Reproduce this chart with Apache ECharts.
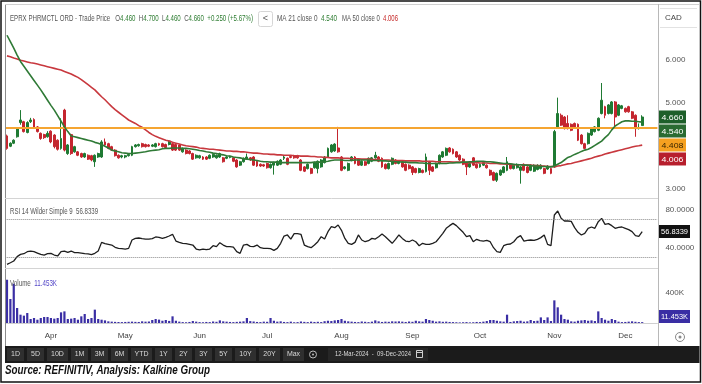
<!DOCTYPE html>
<html><head><meta charset="utf-8">
<script src="https://cdn.jsdelivr.net/npm/echarts@6/dist/echarts.min.js"></script>
<style>html,body{margin:0;padding:0;background:#fff}#c{width:702px;height:384px}</style>
</head><body><div id="c"></div>
<script>
// ---------- DATA ----------
const holidays = ['2024-03-29','2024-05-20','2024-07-01','2024-08-05','2024-09-02','2024-10-14'];
const firstDay = '2024-03-12', lastDay = '2024-12-09';
const padSlots = ['+1','+2','+3','+4'];
const monthNames = ['Jan','Feb','Mar','Apr','May','Jun','Jul','Aug','Sep','Oct','Nov','Dec'];

const openPrices = [
4.22,3.98,4.05,4.20,4.53,4.55,4.30,4.55,4.60,4.43,
4.28,4.25,4.20,4.33,4.24,4.12,3.93,4.82,3.81,4.25,
3.85,3.85,3.81,3.73,3.77,3.76,3.62,3.73,3.73,4.08,
4.04,3.97,3.89,3.77,3.73,3.73,3.76,3.77,3.97,3.99,
4.04,4.02,4.01,3.98,3.97,4.04,4.04,4.02,4.02,4.04,
4.02,4.01,3.85,3.89,3.87,3.81,3.71,3.71,3.73,3.73,
3.70,3.73,3.71,3.73,3.71,3.70,3.72,3.71,3.66,3.54,
3.62,3.68,3.71,3.73,3.63,3.56,3.55,3.58,3.48,3.54,
3.54,3.56,3.70,3.70,3.74,3.76,3.76,3.66,3.50,3.46,
3.46,3.48,3.46,3.50,3.60,3.73,3.85,3.87,3.94,3.73,
3.46,3.42,3.65,3.73,3.68,3.54,3.62,3.58,3.63,3.71,
3.73,3.70,3.56,3.46,3.56,3.66,3.58,3.62,3.56,3.54,
3.50,3.46,3.37,3.42,3.39,3.62,3.50,3.48,3.58,3.73,
3.77,3.94,3.91,3.85,3.77,3.68,3.60,3.50,3.71,3.56,
3.50,3.54,3.54,3.42,3.37,3.19,3.31,3.37,3.42,3.56,
3.46,3.48,3.42,3.56,3.50,3.42,3.40,3.44,3.46,3.46,
3.45,3.46,3.50,4.43,4.70,4.66,4.51,4.49,4.51,4.49,
4.24,4.04,4.04,4.24,4.32,4.35,4.74,4.90,4.74,4.74,
5.01,4.70,4.86,4.86,4.90,4.78,4.70,4.39,4.46];
const closePrices = [
3.93,4.05,4.12,4.39,4.59,4.32,4.53,4.59,4.41,4.32,
4.16,4.18,4.28,4.08,3.97,3.91,4.16,3.89,4.01,3.81,
3.97,3.77,3.73,3.81,3.68,3.66,3.77,3.81,4.08,4.01,
3.93,3.89,3.76,3.71,3.76,3.76,3.79,3.97,4.01,4.02,
3.97,3.97,3.98,4.01,4.04,4.01,3.97,3.95,4.10,3.89,
3.89,3.89,3.93,3.81,3.81,3.68,3.77,3.76,3.68,3.68,
3.77,3.79,3.77,3.81,3.62,3.73,3.74,3.63,3.50,3.62,
3.70,3.73,3.66,3.54,3.52,3.52,3.52,3.48,3.56,3.60,
3.63,3.66,3.73,3.56,3.72,3.71,3.71,3.42,3.40,3.56,
3.35,3.60,3.63,3.66,3.73,3.93,4.01,4.03,3.85,3.42,
3.50,3.58,3.73,3.58,3.54,3.63,3.54,3.70,3.71,3.77,
3.63,3.50,3.46,3.58,3.70,3.58,3.63,3.50,3.42,3.46,
3.37,3.37,3.46,3.37,3.73,3.42,3.40,3.58,3.77,3.85,
3.93,3.85,3.81,3.73,3.66,3.56,3.50,3.58,3.54,3.48,
3.56,3.60,3.48,3.31,3.19,3.35,3.42,3.50,3.62,3.46,
3.54,3.56,3.50,3.42,3.37,3.54,3.54,3.54,3.54,3.35,
3.52,3.35,4.32,4.74,4.47,4.39,4.39,4.35,4.43,4.12,
4.04,3.93,4.28,4.39,4.43,4.63,5.05,4.70,4.94,5.01,
4.66,4.94,4.92,4.78,4.78,4.63,4.39,4.41,4.66];
const highPrices = [
4.25,4.07,4.14,4.42,4.82,4.57,4.56,4.64,4.63,4.45,
4.30,4.27,4.33,4.35,4.26,4.14,4.63,4.85,4.03,4.27,
3.99,3.87,3.83,3.83,3.79,3.78,3.79,3.83,4.12,4.16,
4.06,3.99,3.91,3.79,3.78,3.78,3.81,3.99,4.03,4.04,
4.06,4.04,4.03,4.03,4.06,4.06,4.06,4.04,4.12,4.06,
4.04,4.03,3.95,3.91,3.89,3.83,3.79,3.78,3.75,3.75,
3.79,3.81,3.79,3.83,3.73,3.75,3.76,3.73,3.68,3.64,
3.72,3.81,3.73,3.75,3.65,3.58,3.57,3.60,3.58,3.62,
3.65,3.68,3.77,3.72,3.76,3.78,3.78,3.68,3.52,3.58,
3.48,3.62,3.65,3.68,3.75,3.95,4.03,4.05,4.43,3.75,
3.52,3.60,3.75,3.75,3.70,3.65,3.64,3.72,3.73,3.85,
3.75,3.72,3.58,3.60,3.72,3.68,3.65,3.64,3.58,3.56,
3.52,3.48,3.48,3.44,3.81,3.64,3.52,3.60,3.79,3.87,
3.95,3.96,3.93,3.87,3.79,3.70,3.62,3.60,3.73,3.58,
3.58,3.62,3.56,3.44,3.39,3.37,3.44,3.52,3.73,3.58,
3.56,3.58,3.52,3.58,3.52,3.56,3.56,3.56,3.56,3.48,
3.54,3.48,4.36,5.11,4.74,4.68,4.70,4.51,4.53,4.51,
4.26,4.06,4.30,4.41,4.45,4.65,5.45,4.92,4.96,5.03,
5.03,4.96,4.94,4.88,4.92,4.80,4.72,4.51,4.70];
const lowPrices = [
3.90,3.96,4.03,4.18,4.48,4.30,4.28,4.52,4.38,4.30,
4.13,4.15,4.18,4.05,3.93,3.88,3.90,3.86,3.78,3.78,
3.83,3.75,3.71,3.71,3.66,3.63,3.50,3.71,3.71,3.99,
3.91,3.87,3.74,3.69,3.70,3.70,3.74,3.75,3.95,3.97,
3.95,3.95,3.96,3.96,3.95,3.99,3.95,3.93,4.00,3.87,
3.87,3.87,3.83,3.79,3.79,3.66,3.69,3.69,3.66,3.66,
3.68,3.71,3.69,3.71,3.60,3.68,3.70,3.61,3.48,3.52,
3.60,3.66,3.64,3.52,3.50,3.50,3.50,3.46,3.46,3.32,
3.52,3.54,3.66,3.54,3.70,3.69,3.69,3.40,3.38,3.44,
3.33,3.46,3.35,3.48,3.58,3.71,3.83,3.85,3.83,3.40,
3.44,3.40,3.63,3.56,3.52,3.52,3.52,3.56,3.61,3.69,
3.61,3.48,3.44,3.44,3.54,3.56,3.56,3.48,3.40,3.44,
3.31,3.35,3.35,3.35,3.37,3.31,3.38,3.46,3.56,3.71,
3.75,3.83,3.79,3.71,3.64,3.54,3.31,3.48,3.52,3.46,
3.48,3.52,3.46,3.29,3.17,3.15,3.29,3.35,3.40,3.44,
3.44,3.46,3.11,3.40,3.35,3.40,3.38,3.42,3.44,3.33,
3.43,3.33,3.48,4.40,4.45,4.37,4.37,4.33,4.41,4.10,
4.02,3.91,4.02,4.22,4.30,4.33,4.72,4.63,4.72,4.72,
4.45,4.68,4.84,4.76,4.76,4.61,4.20,4.37,4.46];
const ma21 = [
6.56,6.41,6.26,6.10,5.95,5.84,5.73,5.62,5.51,5.40,
5.29,5.17,5.05,4.93,4.82,4.69,4.56,4.43,4.32,4.22,
4.20,4.18,4.16,4.14,4.12,4.10,4.07,4.05,4.02,3.98,
3.94,3.89,3.87,3.85,3.83,3.82,3.81,3.81,3.82,3.83,
3.84,3.85,3.87,3.88,3.89,3.90,3.92,3.93,3.93,3.94,
3.94,3.94,3.93,3.93,3.92,3.91,3.90,3.88,3.87,3.85,
3.84,3.82,3.81,3.79,3.78,3.76,3.75,3.73,3.72,3.71,
3.69,3.68,3.67,3.66,3.65,3.63,3.62,3.62,3.61,3.61,
3.61,3.60,3.60,3.60,3.60,3.60,3.60,3.60,3.60,3.60,
3.60,3.61,3.61,3.61,3.62,3.63,3.65,3.66,3.66,3.66,
3.65,3.65,3.65,3.66,3.66,3.66,3.66,3.66,3.65,3.65,
3.65,3.64,3.64,3.63,3.63,3.62,3.62,3.61,3.61,3.60,
3.60,3.60,3.59,3.59,3.58,3.58,3.58,3.58,3.58,3.58,
3.58,3.59,3.59,3.60,3.60,3.61,3.61,3.62,3.62,3.63,
3.63,3.63,3.62,3.62,3.61,3.60,3.59,3.58,3.58,3.57,
3.56,3.55,3.55,3.54,3.54,3.53,3.52,3.52,3.51,3.51,
3.50,3.50,3.52,3.56,3.60,3.66,3.72,3.75,3.79,3.82,
3.86,3.89,3.91,3.95,4.00,4.05,4.10,4.18,4.25,4.36,
4.45,4.50,4.55,4.57,4.57,4.56,4.56,4.55,4.54];
const ma50 = [
6.08,6.06,6.03,6.01,5.98,5.96,5.94,5.92,5.91,5.89,
5.87,5.85,5.83,5.81,5.79,5.77,5.75,5.72,5.69,5.66,
5.62,5.58,5.53,5.47,5.41,5.35,5.29,5.21,5.13,5.06,
4.98,4.90,4.83,4.77,4.71,4.65,4.59,4.55,4.51,4.46,
4.42,4.36,4.30,4.25,4.21,4.18,4.15,4.12,4.10,4.07,
4.05,4.03,4.01,3.99,3.98,3.97,3.96,3.94,3.93,3.92,
3.91,3.91,3.90,3.89,3.88,3.87,3.87,3.86,3.86,3.85,
3.85,3.84,3.83,3.82,3.82,3.81,3.80,3.80,3.79,3.79,
3.78,3.78,3.77,3.77,3.77,3.76,3.76,3.75,3.75,3.75,
3.74,3.74,3.73,3.73,3.72,3.72,3.71,3.71,3.71,3.70,
3.70,3.70,3.69,3.69,3.69,3.68,3.68,3.68,3.67,3.67,
3.67,3.66,3.66,3.66,3.65,3.65,3.65,3.65,3.64,3.64,
3.64,3.64,3.64,3.63,3.63,3.63,3.63,3.62,3.62,3.62,
3.62,3.62,3.61,3.61,3.61,3.61,3.60,3.60,3.60,3.60,
3.59,3.59,3.59,3.58,3.58,3.58,3.57,3.57,3.56,3.56,
3.55,3.55,3.55,3.54,3.54,3.54,3.53,3.53,3.52,3.52,
3.51,3.51,3.50,3.52,3.53,3.55,3.57,3.58,3.60,3.62,
3.64,3.66,3.68,3.70,3.73,3.75,3.77,3.80,3.82,3.84,
3.86,3.88,3.90,3.92,3.94,3.96,3.98,3.99,4.006];
const rsi14 = [
22.3,24.0,25.8,30.4,32.8,33.5,35.6,36.3,35.6,34.2,
32.8,32.1,33.5,33.9,32.1,31.1,35.6,36.3,34.9,36.3,
34.6,34.6,34.2,33.5,33.2,32.5,33.9,36.3,45.4,44.0,
43.3,42.6,40.2,39.1,38.8,38.4,39.1,47.9,49.6,50.0,
49.3,48.9,48.9,49.3,51.1,50.7,49.6,50.7,52.1,53.9,
46.8,45.4,44.4,44.0,43.3,42.6,38.4,37.4,38.4,37.7,
38.4,41.9,40.9,45.1,42.6,40.9,40.9,40.5,35.6,33.9,
42.6,43.3,41.2,40.9,42.6,39.8,39.1,39.1,38.8,37.0,
39.1,44.4,52.1,53.2,48.9,54.6,54.6,53.9,42.6,40.9,
39.8,42.6,46.1,51.4,48.9,56.7,61.9,60.9,63.7,58.1,
49.6,44.4,43.3,45.4,53.2,47.9,46.1,47.2,49.6,48.9,
51.4,54.2,51.4,47.9,44.4,48.6,53.2,49.6,46.8,46.1,
47.9,46.1,41.9,44.4,43.3,43.3,44.4,46.1,50.4,54.9,
60.2,63.0,65.4,63.0,59.5,56.0,51.4,52.5,46.1,48.6,
47.2,46.8,47.5,46.1,39.8,35.6,34.9,41.9,43.3,43.7,
46.1,50.4,52.5,46.8,47.5,47.9,47.5,48.6,50.4,53.2,
43.3,41.9,74.2,78.4,70.7,67.9,67.9,67.5,60.9,56.0,
53.2,54.9,60.2,61.6,60.2,67.2,70.7,64.4,65.1,63.0,
60.2,61.2,61.6,60.2,58.8,56.7,52.5,51.8,56.8339];
const volumeK = [
577,320,524,200,111,98,133,53,67,44,
67,80,80,67,58,67,142,155,53,58,
67,44,89,120,53,67,178,53,44,35,
22,18,15,13,12,14,16,18,15,14,
22,18,20,40,53,45,30,40,28,89,
30,18,12,10,14,26,18,12,10,14,
12,20,16,35,22,18,14,12,15,18,
22,67,25,20,14,12,18,16,67,30,
18,22,14,12,18,10,12,20,15,12,
18,14,16,12,24,30,26,35,40,53,
30,22,18,14,12,20,16,12,18,35,
22,14,18,16,22,20,22,18,14,20,
16,30,22,18,53,40,30,18,22,16,
18,14,12,10,8,10,12,8,10,14,
12,18,26,40,40,30,22,18,111,14,
22,26,30,18,22,40,26,30,75,40,
75,26,302,209,111,53,44,22,18,30,
35,40,30,35,26,155,67,44,30,53,
40,18,12,14,18,22,16,12,11.453];
const resistanceLevel = 4.408;
const rsiBands = [70, 30];
const priceTicksShown = [3, 5, 6];
const rsiTicksShown = [40, 80];
const volTicksShown = [400000];
const rangeButtons = ['1D','5D','10D','1M','3M','6M','YTD','1Y','2Y','3Y','5Y','10Y','20Y','Max'];
const dateRangeText = '12-Mar-2024  -  09-Dec-2024';
const sourceText = 'Source: REFINITIV, Analysis: Kalkine Group';

// ---------- categories ----------
const tradingDays = [];
for (let d = new Date(firstDay + 'T00:00:00Z'); d <= new Date(lastDay + 'T00:00:00Z'); d.setUTCDate(d.getUTCDate() + 1)) {
  const wd = d.getUTCDay(), s = d.toISOString().slice(0, 10);
  if (wd !== 0 && wd !== 6 && holidays.indexOf(s) < 0) tradingDays.push(s);
}
const categories = tradingDays.concat(padSlots);

const N = closePrices.length;
const last = N - 1;
const lastO = openPrices[last], lastH = highPrices[last], lastL = lowPrices[last], lastC = closePrices[last];
const chg = lastC - closePrices[last - 1];
const chgPct = chg / closePrices[last - 1] * 100;

// ---------- chart ----------
const FONT = '"Liberation Sans", Arial, sans-serif';
const chart = echarts.init(document.getElementById('c'), null, {renderer: 'canvas'});
const GL = 5.3, GW = 652.1;
const UP = '#1f7a33', DOWN = '#c4262f';

function xAxisFor(i, showLabels) {
  return {
    type: 'category', gridIndex: i, data: categories, boundaryGap: true,
    axisTick: {show: false},
    axisLine: {show: showLabels, lineStyle: {color: '#cfcfcf', width: 1}},
    splitLine: {show: false},
    axisLabel: showLabels ? {
      show: true, color: '#444', fontSize: 8, fontFamily: FONT, margin: 9, hideOverlap: false,
      interval: function (idx, val) {
        if (!val || val.length !== 10 || idx === 0) return false;
        return val.slice(0, 7) !== categories[idx - 1].slice(0, 7);
      },
      formatter: function (val) { return val.length === 10 ? monthNames[+val.slice(5, 7) - 1] : ''; }
    } : {show: false}
  };
}
function yAxisFor(i, min, max, split, shown, fmt) {
  return {
    type: 'value', gridIndex: i, position: 'right', min: min, max: max, splitNumber: split, scale: true,
    axisLine: {show: false}, axisTick: {show: false}, splitLine: {show: false},
    axisLabel: {
      show: true, color: '#555', fontSize: 8, fontFamily: FONT, margin: 8,
      showMinLabel: false, showMaxLabel: false,
      formatter: function (v) {
        for (const s of shown) if (Math.abs(v - s) < 1e-6) return fmt(v);
        return '';
      }
    }
  };
}

const option = {
  animation: false,
  backgroundColor: '#fff',
  grid: [
    {left: GL, width: GW, top: 26, height: 171},
    {left: GL, width: GW, top: 200, height: 65},
    {left: GL, width: GW, top: 272, height: 51}
  ],
  xAxis: [xAxisFor(0, false), xAxisFor(1, false), xAxisFor(2, true)],
  yAxis: [
    yAxisFor(0, 2.8, 6.775, 4, priceTicksShown, v => v.toFixed(3)),
    yAxisFor(1, 21.6, 90, 3, rsiTicksShown, v => v.toFixed(4)),
    yAxisFor(2, 0, 680000, 3, volTicksShown, v => (v / 1000) + 'K')
  ],
  series: [
    {
      type: 'candlestick', xAxisIndex: 0, yAxisIndex: 0, barWidth: 2.4,
      data: openPrices.map((o, i) => [o, closePrices[i], lowPrices[i], highPrices[i]]),
      itemStyle: {color: UP, color0: DOWN, borderColor: UP, borderColor0: DOWN, borderWidth: 1},
      markLine: {
        silent: true, symbol: ['none', 'none'], label: {show: false},
        lineStyle: {color: '#f5a531', width: 2, type: 'solid'},
        data: [{yAxis: resistanceLevel}]
      },
      z: 2
    },
    {type: 'line', xAxisIndex: 0, yAxisIndex: 0, data: ma50, symbol: 'none', lineStyle: {color: '#c8383e', width: 1.6}, z: 4},
    {type: 'line', xAxisIndex: 0, yAxisIndex: 0, data: ma21, symbol: 'none', lineStyle: {color: '#2f7a36', width: 1.6}, z: 5},
    {
      type: 'line', xAxisIndex: 1, yAxisIndex: 1, data: rsi14, symbol: 'none',
      lineStyle: {color: '#1e1e1e', width: 1.3},
      markLine: {
        silent: true, symbol: ['none', 'none'], label: {show: false},
        lineStyle: {color: '#8a8a8a', width: 1, type: 'dotted'},
        data: rsiBands.map(v => ({yAxis: v}))
      }
    },
    {
      type: 'bar', xAxisIndex: 2, yAxisIndex: 2, data: volumeK.map(v => v * 1000),
      barWidth: 2.2, itemStyle: {color: '#3a2ea4'}
    }
  ]
};
chart.setOption(option);

// ---------- decorations ----------
const mctx = document.createElement('canvas').getContext('2d');
function textWidth(t, font) { mctx.font = font; return mctx.measureText(t).width; }
function T(x, y, text, o) {
  o = o || {};
  const size = o.size || 8, weight = o.weight || 'normal', style = o.style || 'normal';
  const font = style + ' ' + weight + ' ' + size + 'px ' + FONT;
  let sx = 1;
  if (o.fitWidth) sx = o.fitWidth / textWidth(o.measure || text, font);
  const el = {
    type: 'text', x: x, y: y, scaleX: sx, z: 100, silent: true,
    style: {
      text: text, font: font, fontSize: size, fontFamily: FONT, fontWeight: weight, fontStyle: style,
      fill: o.color || '#555',
      align: o.align || 'left', textAlign: o.align || 'left',
      verticalAlign: 'middle', textVerticalAlign: 'middle'
    }
  };
  if (o.rich) el.style.rich = o.rich;
  return el;
}
function R(x, y, w, h, fill, stroke, lw, r) {
  return {type: 'rect', z: 90, silent: true, shape: {x: x, y: y, width: w, height: h, r: r || 0},
    style: {fill: fill || 'none', stroke: stroke || 'none', lineWidth: lw || 1}};
}
function L(x1, y1, x2, y2, color, w) {
  return {type: 'line', z: 95, silent: true, shape: {x1: x1, y1: y1, x2: x2, y2: y2}, style: {stroke: color, lineWidth: w || 1}};
}

const g = [];
// frames
g.push(R(1, 1, 699.5, 381, 'none', '#111', 1.5));
g.push(L(5.5, 4, 5.5, 346, '#8c8c8c', 1));
g.push(L(5, 4.5, 699, 4.5, '#d0d0d0', 1));
g.push(L(658.5, 4, 658.5, 346, '#b8b8b8', 1));
g.push(L(5, 198.5, 658, 198.5, '#d4d4d4', 1));
g.push(L(5, 268.5, 658, 268.5, '#d4d4d4', 1));
g.push(L(660, 8.5, 697, 8.5, '#e2e2e2', 1));
g.push(L(660, 27.5, 697, 27.5, '#e2e2e2', 1));
g.push(T(665, 18, 'CAD', {size: 8, color: '#444'}));

// header
const GREEN_T = '#2e7d32', GRAY_T = '#555';
const hdrPlain = 'EPRX PHRMCTL ORD - Trade Price   O' + lastO.toFixed(3) + '  H' + lastH.toFixed(3) + '  L' + lastL.toFixed(3) +
  '  C' + lastC.toFixed(3) + '  ' + (chg >= 0 ? '+' : '') + chg.toFixed(3) + ' (' + (chg >= 0 ? '+' : '') + chgPct.toFixed(2) + '%)';
const hdrRich = '{n|EPRX PHRMCTL ORD - Trade Price}   {n|O}{v|' + lastO.toFixed(3) + '}  {n|H}{v|' + lastH.toFixed(3) + '}  {n|L}{v|' + lastL.toFixed(3) +
  '}  {n|C}{v|' + lastC.toFixed(3) + '}  {v|' + (chg >= 0 ? '+' : '') + chg.toFixed(3) + ' (' + (chg >= 0 ? '+' : '') + chgPct.toFixed(2) + '%)}';
const richStyles = {
  n: {fill: GRAY_T, color: GRAY_T, fontSize: 8.5, fontFamily: FONT},
  v: {fill: GREEN_T, color: GREEN_T, fontSize: 8.5, fontFamily: FONT},
  r: {fill: '#c62828', color: '#c62828', fontSize: 8.5, fontFamily: FONT}
};
g.push(T(10, 19, hdrRich, {size: 8.5, fitWidth: 243, measure: hdrPlain, rich: richStyles}));
g.push(R(258.5, 11.5, 14, 15, '#fff', '#d6d6d6', 1, 2));
g.push(T(265.5, 19, '<', {size: 9, color: '#555', align: 'center'}));
const ma21Plain = 'MA 21 close 0  ' + ma21[last].toFixed(3);
g.push(T(277, 19, '{n|MA 21 close 0}  {v|' + ma21[last].toFixed(3) + '}', {size: 8.5, fitWidth: 60, measure: ma21Plain, rich: richStyles}));
const ma50Plain = 'MA 50 close 0  ' + ma50[last].toFixed(3);
g.push(T(342, 19, '{n|MA 50 close 0}  {r|' + ma50[last].toFixed(3) + '}', {size: 8.5, fitWidth: 56, measure: ma50Plain, rich: richStyles}));

// RSI + volume labels
const rsiPlain = 'RSI 14 Wilder Simple 9  ' + rsi14[last].toFixed(4);
g.push(T(10, 212, rsiPlain, {size: 8.5, fitWidth: 88, color: '#555'}));
const volStr = volumeK[last].toFixed(3) + 'K';
g.push(T(10, 284, '{n|Volume}  {p|' + volStr + '}', {size: 8.5, fitWidth: 47, measure: 'Volume  ' + volStr,
  rich: {n: richStyles.n, p: {fill: '#5548c8', color: '#5548c8', fontSize: 8.5, fontFamily: FONT}}}));

// price badges (stacked)
const badges = [
  {v: lastC, bg: '#1d5f2a', fg: '#fff'},
  {v: ma21[last], bg: '#2a6b32', fg: '#fff'},
  {v: resistanceLevel, bg: '#f5a020', fg: '#3a2600'},
  {v: ma50[last], bg: '#b71f2d', fg: '#fff'}
].map(b => Object.assign(b, {y: chart.convertToPixel({yAxisIndex: 0}, b.v)}));
badges.sort((a, b) => a.y - b.y);
for (let k = 1; k < badges.length; k++) badges[k].y = Math.max(badges[k].y, badges[k - 1].y + 14);
badges.forEach(b => {
  g.push(R(659, b.y - 6.5, 27, 13, b.bg));
  g.push(T(672.5, b.y + 0.5, b.v.toFixed(3), {size: 8, color: b.fg, align: 'center', fitWidth: 22}));
});
// RSI badge
const ry = chart.convertToPixel({yAxisIndex: 1}, rsi14[last]);
g.push(R(659, ry - 6.5, 31, 13, '#111'));
g.push(T(674.5, ry + 0.5, rsi14[last].toFixed(4), {size: 8, color: '#fff', align: 'center', fitWidth: 27}));
// Volume badge
let vy = chart.convertToPixel({yAxisIndex: 2}, volumeK[last] * 1000);
vy = Math.min(vy, 323 - 6.5);
g.push(R(659, vy - 6.5, 31, 13, '#3a2ea4'));
g.push(T(674.5, vy + 0.5, volStr, {size: 8, color: '#fff', align: 'center', fitWidth: 27}));

// settings icon
g.push({type: 'circle', z: 95, silent: true, shape: {cx: 680, cy: 337, r: 4.5}, style: {fill: 'none', stroke: '#888', lineWidth: 1}});
g.push({type: 'circle', z: 95, silent: true, shape: {cx: 680, cy: 337, r: 1.5}, style: {fill: '#888'}});

// toolbar
g.push(R(5, 346, 694.5, 17, '#1b1b1b'));
let bx = 7;
rangeButtons.forEach(lbl => {
  const w = lbl.length >= 3 ? 21 : 17;
  g.push(R(bx, 348, w, 13, '#2f2f2f'));
  g.push(T(bx + w / 2, 354.5, lbl, {size: 7, color: '#d8d8d8', align: 'center'}));
  bx += w + 3;
});
g.push({type: 'circle', z: 95, silent: true, shape: {cx: 313, cy: 354.5, r: 3.5}, style: {fill: 'none', stroke: '#bbb', lineWidth: 1}});
g.push({type: 'circle', z: 95, silent: true, shape: {cx: 313, cy: 354.5, r: 1}, style: {fill: '#bbb'}});
g.push(R(328, 348, 100, 13, '#262626'));
g.push(T(335, 354.5, dateRangeText, {size: 7, color: '#dcdcdc', fitWidth: 76}));
g.push(R(416.5, 350.5, 6, 7, 'none', '#cfcfcf', 1));
g.push(L(416.5, 352.5, 422.5, 352.5, '#cfcfcf', 1));

// source
g.push(T(5, 370.5, sourceText, {size: 12, weight: 'bold', style: 'italic', color: '#111', fitWidth: 205}));

chart.setOption({graphic: {elements: g}});
</script>
</body></html>
